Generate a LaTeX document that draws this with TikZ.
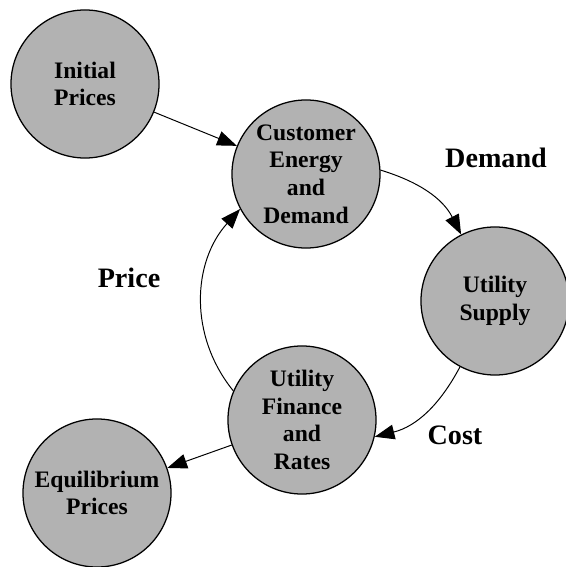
\documentclass[tikz,border=0pt]{standalone}
\usepackage{fontspec}
\setmainfont{Liberation Serif}
\usetikzlibrary{arrows.meta}

\begin{document}
\begin{tikzpicture}[x=0.025cm,y=0.025cm,
	stage/.style={circle, draw, line width=0.9pt, fill=black!30, minimum size=3.7cm, inner sep=0pt, align=center, font=\fontsize{16.8}{19.6}\selectfont\bfseries},
	flowlabel/.style={font=\fontsize{20}{24}\selectfont\bfseries},
	flow/.style={-{Triangle[length=14pt,width=10.5pt]}, line width=0.7pt}]
	\useasboundingbox (0,0) rectangle (566,567);

	\node (IP) [stage] at (85,483) {Initial\\Prices};
	\node (CED) [stage] at (306,393) {Customer\\Energy\\and\\Demand};
	\node (US) [stage] at (495,266) {Utility\\Supply};
	\node (UFR) [stage] at (302,147) {Utility\\Finance\\and\\Rates};
	\node (EP) [stage] at (97,74) {Equilibrium\\Prices};

	\node (d) [flowlabel] at (496,409) {Demand};
	\node (p) [flowlabel] at (129,289) {Price};
	\node (c) [flowlabel] at (455,132) {Cost};

	\draw [flow] (IP) -- (CED);
	\draw [flow] (CED.3) to [out=-17, in=117] (US);
	\draw [flow] (US) to [out=242, in=14] (UFR.-13);
	\draw [flow] (UFR.157) to [out=129, in=228] (CED.208);
	\draw [flow] (UFR) -- (EP);

\end{tikzpicture}
\end{document}
